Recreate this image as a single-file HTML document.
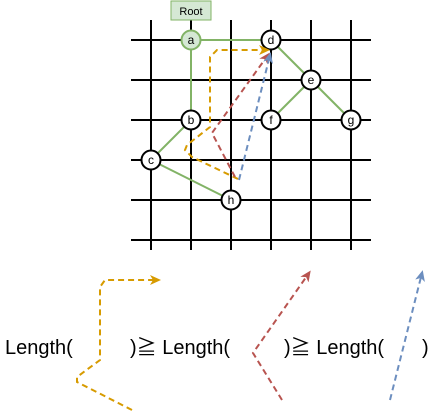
<!DOCTYPE html>
<html><head><meta charset="utf-8"><style>
body{margin:0;background:#fff;width:431px;height:420px;overflow:hidden}
svg{display:block}
text{font-family:"Liberation Sans","Noto Sans CJK JP",sans-serif}
</style></head><body>
<svg width="431" height="420">
<defs>
<marker id="ao" markerWidth="11" markerHeight="10" refX="8" refY="5" orient="auto" markerUnits="userSpaceOnUse"><path d="M0,0 L11,5 L0,10 L3,5z" fill="#d79b00"/></marker>
<marker id="ar" markerWidth="11" markerHeight="10" refX="8" refY="5" orient="auto" markerUnits="userSpaceOnUse"><path d="M0,0 L11,5 L0,10 L3,5z" fill="#b85450"/></marker>
<marker id="ab" markerWidth="11" markerHeight="10" refX="8" refY="5" orient="auto" markerUnits="userSpaceOnUse"><path d="M0,0 L11,5 L0,10 L3,5z" fill="#6c8ebf"/></marker>
</defs>
<g stroke="#000" stroke-width="2">
<line x1="151" y1="20" x2="151" y2="250"/><line x1="191" y1="20" x2="191" y2="250"/><line x1="231" y1="20" x2="231" y2="250"/><line x1="271" y1="20" x2="271" y2="250"/><line x1="311" y1="20" x2="311" y2="250"/><line x1="351" y1="20" x2="351" y2="250"/>
<line x1="131" y1="40" x2="371" y2="40"/><line x1="131" y1="80" x2="371" y2="80"/><line x1="131" y1="120" x2="371" y2="120"/><line x1="131" y1="160" x2="371" y2="160"/><line x1="131" y1="200" x2="371" y2="200"/><line x1="131" y1="240" x2="371" y2="240"/>
</g>
<g stroke="#82b366" stroke-width="2">
<line x1="191" y1="40" x2="271" y2="40"/><line x1="191" y1="40" x2="191" y2="120"/><line x1="271" y1="40" x2="311" y2="80"/><line x1="311" y1="80" x2="271" y2="120"/><line x1="311" y1="80" x2="351" y2="120"/><line x1="191" y1="120" x2="151" y2="160"/><line x1="151" y1="160" x2="231" y2="200"/>
</g>
<rect x="171" y="1" width="40" height="19" fill="#d5e8d4" stroke="#82b366"/>
<text x="191" y="15" font-size="11" text-anchor="middle">Root</text>
<g font-size="12" text-anchor="middle">
<circle cx="191" cy="40" r="9.5" fill="#d5e8d4" stroke="#82b366" stroke-width="2"/><text x="191" y="44">a</text>
<circle cx="271" cy="40" r="9.5" fill="#fff" stroke="#000" stroke-width="2"/><text x="271" y="44">d</text>
<circle cx="311" cy="80" r="9.5" fill="#fff" stroke="#000" stroke-width="2"/><text x="311" y="84">e</text>
<circle cx="191" cy="120" r="9.5" fill="#fff" stroke="#000" stroke-width="2"/><text x="191" y="124">b</text>
<circle cx="271" cy="120" r="9.5" fill="#fff" stroke="#000" stroke-width="2"/><text x="271" y="124">f</text>
<circle cx="351" cy="120" r="9.5" fill="#fff" stroke="#000" stroke-width="2"/><text x="351" y="124">g</text>
<circle cx="151" cy="160" r="9.5" fill="#fff" stroke="#000" stroke-width="2"/><text x="151" y="164">c</text>
<circle cx="231" cy="200" r="9.5" fill="#fff" stroke="#000" stroke-width="2"/><text x="231" y="204">h</text>
</g>
<g fill="none" stroke-width="2" stroke-dasharray="6,4">
<polyline points="238,179 192,157 185,150 187,145 210,127 210,57 217,50 267,50" stroke="#d79b00" marker-end="url(#ao)"/>
<polyline points="235,177 212,133 268,55" stroke="#b85450" marker-end="url(#ar)"/>
<polyline points="239,180 270,55" stroke="#6c8ebf" marker-end="url(#ab)"/>
<polyline points="132,410 77,382 77,377 100,360 100,287 105,280 158,280" stroke="#d79b00" marker-end="url(#ao)"/>
<polyline points="282,400 253,353 309,273" stroke="#b85450" marker-end="url(#ar)"/>
<polyline points="390,400 422,273" stroke="#6c8ebf" marker-end="url(#ab)"/>
</g>
<g font-size="20">
<text x="5" y="354">Length(</text>
<text x="130" y="354">)≧ Length(</text>
<text x="284" y="354">)≧ Length(</text>
<text x="422" y="354">)</text>
</g>
</svg>
</body></html>
